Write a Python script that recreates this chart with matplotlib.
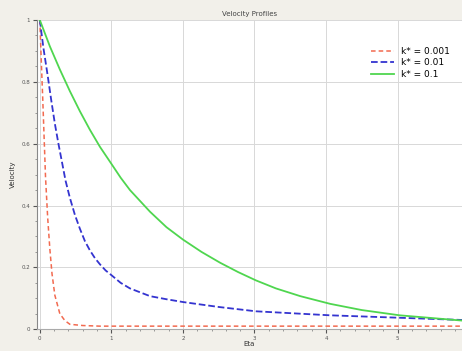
import numpy as np
import matplotlib.pyplot as plt

# values
eta_red = [0, 0.02, 0.04, 0.06, 0.08, 0.11, 0.14, 0.17, 0.21, 0.28, 0.35, 0.42, 0.6, 0.84, 2.0, 4.0, 5.9]
vel_red = [1.0, 0.87, 0.75, 0.62, 0.49, 0.36, 0.26, 0.18, 0.11, 0.05, 0.028, 0.016, 0.012, 0.01, 0.01, 0.01, 0.01]

eta_blue = [0, 0.05, 0.11, 0.16, 0.21, 0.26, 0.31, 0.36, 0.42, 0.49, 0.56, 0.63, 0.70, 0.77, 0.84,
            0.92, 1.0, 1.13, 1.26, 1.54, 1.77, 2.0, 2.5, 3.02, 4.06, 5.9]
vel_blue = [1.0, 0.91, 0.82, 0.74, 0.665, 0.60, 0.54, 0.48, 0.425, 0.37, 0.325, 0.285, 0.255, 0.23, 0.21,
            0.19, 0.175, 0.15, 0.132, 0.107, 0.097, 0.088, 0.072, 0.058, 0.045, 0.03]

eta_green = [0, 0.14, 0.28, 0.42, 0.56, 0.70, 0.84, 1.0, 1.13, 1.26, 1.54, 1.77, 2.0, 2.26, 2.52,
             2.77, 3.02, 3.3, 3.64, 4.06, 4.5, 5.03, 5.9]
vel_green = [1.0, 0.915, 0.84, 0.77, 0.705, 0.645, 0.59, 0.535, 0.49, 0.45, 0.38, 0.33, 0.29, 0.25, 0.215,
             0.185, 0.158, 0.132, 0.107, 0.082, 0.062, 0.045, 0.028]

labels = ['k* = 0.001', 'k* = 0.01', 'k* = 0.1']

fig = plt.figure(figsize=(4.62, 3.51), dpi=100, facecolor='#f2f0ea')
ax = fig.add_axes([0.080, 0.062, 0.92, 0.881])
ax.set_facecolor('white')

ax.plot(eta_red, vel_red, '--', color='#f26a50', lw=1.1, dashes=(3, 2), label=labels[0])
ax.plot(eta_blue, vel_blue, '--', color='#3434d0', lw=1.3, label=labels[1])
ax.plot(eta_green, vel_green, '-', color='#4fd64f', lw=1.3, label=labels[2])

ax.set_xlim(-0.04, 5.9)
ax.set_ylim(0, 1)
ax.set_xticks([0, 1, 2, 3, 4, 5])
ax.set_yticks([0, 0.2, 0.4, 0.6, 0.8, 1])
ax.set_yticklabels(['0', '0.2', '0.4', '0.6', '0.8', '1'])
ax.minorticks_on()
ax.tick_params(labelsize=4, colors='#555555', length=3, pad=2)
ax.tick_params(which='minor', length=1.5, colors='#888888')
ax.grid(True, color='#d8d8d8', lw=0.7)

for s in ['top', 'right']:
    ax.spines[s].set_visible(False)
ax.spines['left'].set_color('#888888')
ax.spines['bottom'].set_color('#aaaaaa')

ax.set_title('Velocity Profiles', fontsize=5, color='#444444', pad=3)
ax.set_xlabel('Eta', fontsize=5, color='#333333', labelpad=0)
ax.set_ylabel('Velocity', fontsize=5, color='#333333', labelpad=4)

ax.legend(loc='upper right', frameon=False, fontsize=6.5, handlelength=2.5,
          labelspacing=0.3, bbox_to_anchor=(0.99, 0.94))

fig.savefig('out.png', dpi=100, facecolor=fig.get_facecolor())
